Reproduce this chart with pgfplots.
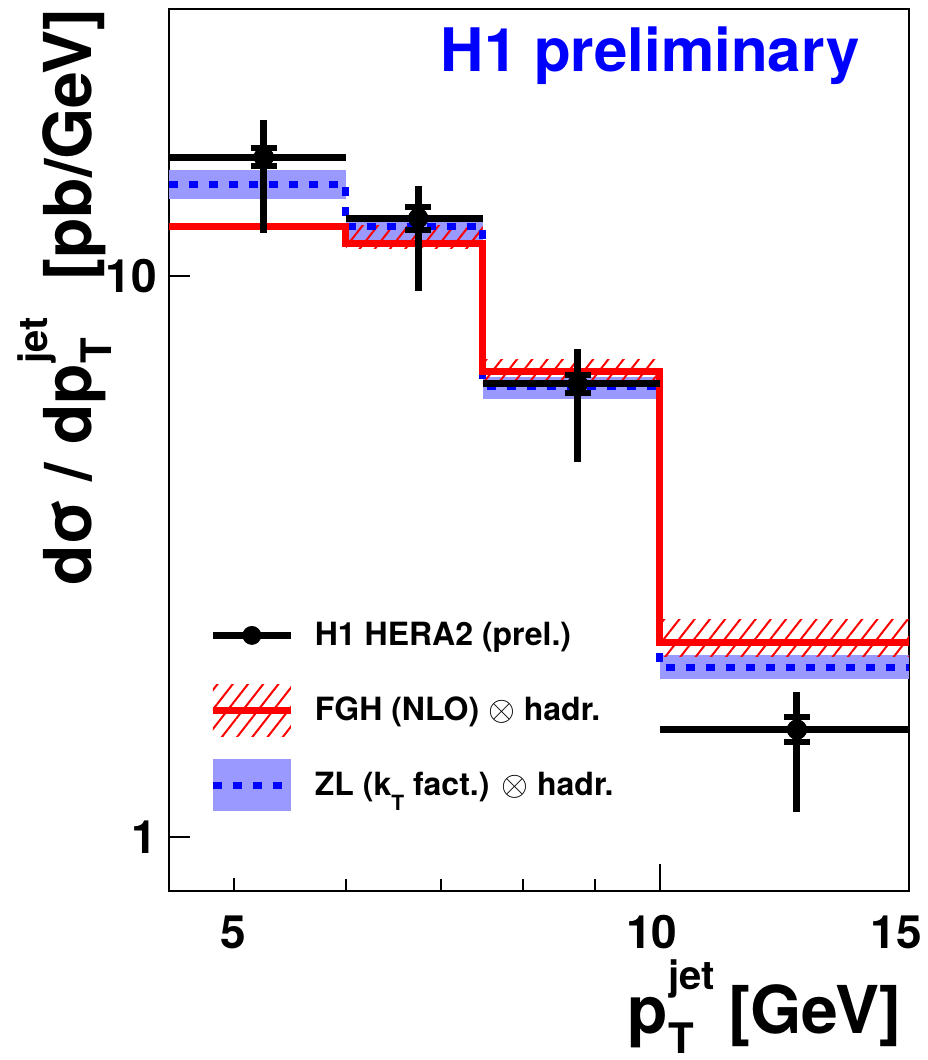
\documentclass[border=0pt]{standalone}
\usepackage{fontspec}
\setmainfont{TeX Gyre Heros}
\usepackage{pgfplots}
\pgfplotsset{compat=1.18}
\usetikzlibrary{patterns.meta}

\definecolor{zlband}{RGB}{153,153,255}
\definecolor{hblue}{RGB}{0,0,255}

% p_T^jet built from text, so it stays in the bold sans font
\newcommand{\pTjet}{p\rlap{\raisebox{-10pt}{\fontsize{21}{21}\selectfont T}}\raisebox{22pt}{\fontsize{20}{20}\selectfont jet}}
\tikzset{fghhatch/.style={pattern={Lines[angle=52,distance=6pt,line width=1pt]},pattern color=red}}

\begin{document}
\begin{tikzpicture}
\begin{axis}[
    name=ax,
    xmode=log, ymode=log,
    scale only axis, width=370pt, height=441pt,
    xmin=4.5, xmax=15, ymin=0.8, ymax=30,
    axis line style={line width=1.2pt},
    tick style={line width=1pt, black},
    tick align=inside, tick pos=left,
    major tick length=13.5pt, minor tick length=6pt,
    xtick={10}, xticklabels={10\hspace*{8pt}},
    extra x ticks={5,15}, extra x tick labels={5,15\hspace*{13pt}},
    extra x tick style={major tick length=6.5pt},
    minor xtick={6,7,8,9},
    ytick=\empty, extra y ticks={1,10}, extra y tick labels={1,10},
    extra y tick style={major tick length=10.5pt},
    minor ytick={0.9,2,3,4,5,6,7,8,9,20,30},
    ticklabel style={font=\fontsize{23}{23}\selectfont\bfseries, inner sep=0pt},
    xticklabel style={yshift=-12pt},
    yticklabel style={xshift=-6pt},
    xlabel={\pTjet\hspace{7pt}[GeV]},
    xlabel style={at={(rel axis cs:0.9905,-0.161)}, anchor=base east, inner sep=0pt,
        font=\fontsize{33}{33}\selectfont\bfseries},
    ylabel={dσ / d\pTjet\ \ [pb/GeV]},
    ylabel style={at={(rel axis cs:-0.1041,1.0011)}, anchor=base east, inner sep=0pt,
        font=\fontsize{33}{33}\selectfont\bfseries},
    legend cell align=left,
    legend style={at={(rel axis cs:0.054,0.3197)}, anchor=north west, draw=none, fill=none,
        inner sep=0pt, row sep=11.5pt, nodes={inner sep=0pt},
        font=\fontsize{16}{16}\selectfont\bfseries},
]
% ZL band
\addplot[draw=none, fill=zlband, forget plot] coordinates {(4.5,13.73)(6,13.73)(6,15.47)(4.5,15.47)} --cycle;
\addplot[draw=none, fill=zlband, forget plot] coordinates {(6,11.6)(7.5,11.6)(7.5,12.7)(6,12.7)} --cycle;
\addplot[draw=none, fill=zlband, forget plot] coordinates {(7.5,6.05)(10,6.05)(10,6.62)(7.5,6.62)} --cycle;
\addplot[draw=none, fill=zlband, forget plot] coordinates {(10,1.909)(15,1.909)(15,2.109)(10,2.109)} --cycle;
% FGH band
\addplot[draw=none, fghhatch, forget plot] coordinates {(4.5,12.1)(6,12.1)(6,12.45)(4.5,12.45)} --cycle;
\addplot[draw=none, fghhatch, forget plot] coordinates {(6,11.2)(7.5,11.2)(7.5,12.34)(6,12.34)} --cycle;
\addplot[draw=none, fghhatch, forget plot] coordinates {(7.5,6.45)(10,6.45)(10,7.10)(7.5,7.10)} --cycle;
\addplot[draw=none, fghhatch, forget plot] coordinates {(10,2.099)(15,2.099)(15,2.444)(10,2.444)} --cycle;
% ZL central
\addplot[hblue, line width=3.5pt, dash pattern=on 4.5pt off 5.5pt, const plot mark left, forget plot]
    coordinates {(4.5,14.61)(6,12.28)(7.5,6.36)(10,2.005)(15,2.005)};
% FGH central
\addplot[red, line width=3.5pt, const plot mark left, forget plot]
    coordinates {(4.5,12.28)(6,11.46)(7.5,6.76)(10,2.223)(15,2.223)};
% H1 data, total errors
\addplot[black, only marks, mark=*, mark size=4.8pt, forget plot,
    error bars/.cd, x dir=both, x explicit, y dir=both, y explicit,
    error mark=none, error bar style={line width=3.5pt, black}]
    coordinates {
    (5.25,16.33) += (0.75,2.69) -= (0.75,4.39)
    (6.75,12.70) += (0.75,1.79) -= (0.75,3.30)
    (8.75,6.43) += (1.25,1.00) -= (1.25,1.76)
    (12.5,1.553) += (2.5,0.263) -= (2.5,0.444)
    };
% H1 data, statistical errors
\addplot[black, only marks, mark=*, mark size=4.8pt, forget plot,
    error bars/.cd, y dir=both, y explicit,
    error mark=|, error mark options={line width=3pt, mark size=6.5pt, black},
    error bar style={line width=3.5pt, black}]
    coordinates {
    (5.25,16.33) +- (0,0.6)
    (6.75,12.70) +- (0,0.6)
    (8.75,6.43) +- (0,0.25)
    (12.5,1.553) +- (0,0.08)
    };
\node[anchor=base east, inner sep=0pt, text=hblue, font=\fontsize{30}{30}\selectfont\bfseries,
    xshift=-24.5pt, yshift=-31.5pt] at (rel axis cs:1,1) {H1 preliminary};
% legend
\addlegendimage{legend image code/.code={
    \path[draw=none, fill=none] (0pt,-13pt) rectangle (51pt,13pt);
    \draw[black, line width=3.5pt] (0pt,0pt) -- (39pt,0pt);
    \fill[black] (19.5pt,0pt) circle (4.5pt);}}
\addlegendentry{H1 HERA2 (prel.)}
\addlegendimage{legend image code/.code={
    \path[draw=none, fill=none] (0pt,-13pt) rectangle (51pt,13pt);
    \path[fghhatch, draw=none] (0pt,-13pt) rectangle (39pt,13pt);
    \draw[red, line width=3.5pt] (0pt,0pt) -- (39pt,0pt);}}
\addlegendentry{FGH (NLO) $\otimes$ hadr.}
\addlegendimage{legend image code/.code={
    \path[draw=none, fill=none] (0pt,-13pt) rectangle (51pt,13pt);
    \path[fill=zlband, draw=none] (0pt,-13pt) rectangle (39pt,13pt);
    \draw[hblue, line width=3.5pt, dash pattern=on 4.5pt off 5.5pt] (0pt,0pt) -- (39pt,0pt);}}
\addlegendentry{ZL (k\raisebox{-7.5pt}{\fontsize{10.5}{10.5}\selectfont T}\ fact.) $\otimes$ hadr.}
\end{axis}
\pgfresetboundingbox
\path ([shift={(-84.5pt,-84.5pt)}]ax.south west) rectangle ([shift={(9pt,4.5pt)}]ax.north east);
\end{tikzpicture}
\end{document}
